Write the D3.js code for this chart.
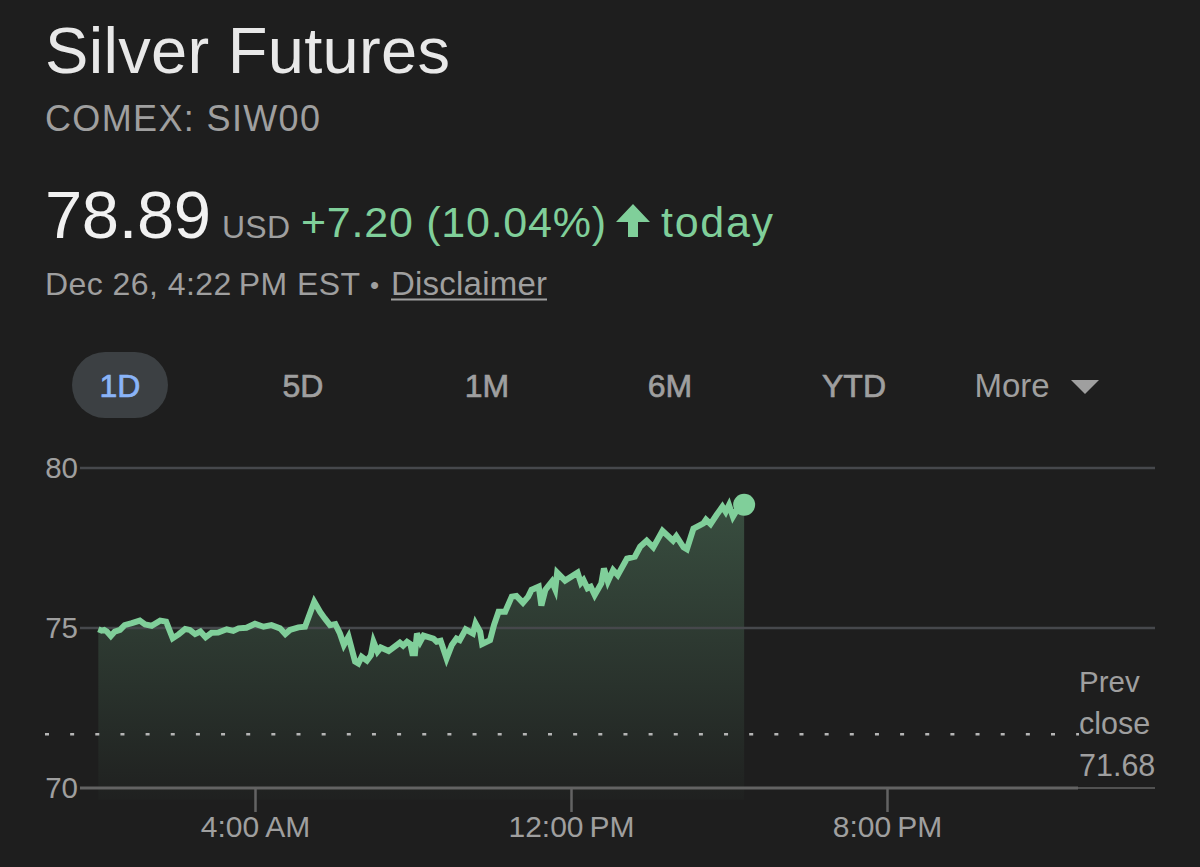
<!DOCTYPE html>
<html><head><meta charset="utf-8">
<script src="https://cdn.jsdelivr.net/npm/d3@7"></script>
<style>
html,body{margin:0;padding:0;background:#1e1e1e;overflow:hidden}
svg{display:block}
text{font-family:"Liberation Sans",Arial,sans-serif}
</style></head><body><div id="chart"></div>
<script>
const minutes=[2,7,11,15,21,27,35,42,53,65,73,83,96,105,115,124,134,141,149,157,165,174,184,197,207,215,227,240,253,265,278,286,293,306,316,330,339,346,354,362,369,375,382,392,397,402,410,416,420,426,431,443,460,465,471,476,479,483,486,491,496,511,516,522,531,539,546,551,560,571,575,582,585,597,603,610,620,630,637,647,655,660,671,675,681,691,696,699,711,730,735,739,745,750,756,766,770,776,784,791,805,817,825,835,845,859,875,880,891,896,906,921,925,932,941,950,955,960,966,972,983];
const prices=[74.96,74.92,74.94,74.89,74.75,74.89,74.94,75.09,75.15,75.23,75.11,75.07,75.23,75.20,74.68,74.80,74.97,74.94,74.81,74.89,74.71,74.85,74.86,74.96,74.91,74.99,75.01,75.13,75.04,75.09,74.99,74.81,74.94,75.02,75.04,75.82,75.50,75.30,75.09,75.12,74.83,74.47,74.73,73.95,73.89,74.10,73.98,74.15,74.57,74.26,74.39,74.28,74.54,74.45,74.57,74.50,74.21,74.21,74.83,74.57,74.76,74.67,74.57,74.60,74.05,74.47,74.67,74.62,74.96,74.83,75.14,74.88,74.50,74.62,75.09,75.51,75.51,75.98,76.00,75.79,75.98,76.19,76.29,75.70,76.19,76.45,76.21,76.73,76.48,76.73,76.41,76.50,76.24,76.29,76.03,76.39,76.86,76.45,76.81,76.65,77.17,77.23,77.54,77.73,77.52,78.04,77.73,77.87,77.52,77.46,78.11,78.27,78.39,78.25,78.53,78.79,78.63,78.84,78.48,78.69,78.85];
const yTicks=[70,75,80];
const xTicks=[240,720,1200];
const xTickLabels=["4:00\u2009AM","12:00\u2009PM","8:00\u2009PM"];
const prevClose=71.68;
const ranges=["1D","5D","1M","6M","YTD"];

const W=1200,H=867;
const GREY="#9f9f9f",GREEN="#80cf9a",LIGHT="#e8e8e8";
const svg=d3.select("#chart").append("svg").attr("width",W).attr("height",H);
const x=d3.scaleLinear().domain([240,1200]).range([255,887]);
const y=d3.scaleLinear().domain([70,80]).range([788,468]);
const data=minutes.map((m,i)=>({m,p:prices[i]}));

const T=(s,px,py,size,fill,anchor="start",len=null,extra={})=>{
  const t=svg.append("text").text(s).attr("x",px).attr("y",py).attr("font-size",size).attr("fill",fill).attr("text-anchor",anchor);
  if(len)t.attr("textLength",len).attr("lengthAdjust","spacing");
  Object.entries(extra).forEach(([k,v])=>t.attr(k,v));return t;};

// Header
T("Silver Futures",45,73,65,LIGHT,"start",405);
T("COMEX: SIW00",45,131,36,GREY,"start",275);
T("78.89",45,238,67,"#f1f1f1","start",166);
T("USD",222,238,32,GREY,"start",68);
T("+7.20 (10.04%)",301,237,43,GREEN,"start",305);
svg.append("path").attr("fill",GREEN).attr("d","M633 204 L650 222 L638 222 L638 237 L628 237 L628 222 L616 222 Z");
T("today",661,237,43,GREEN,"start",112);
T("Dec 26, 4:22\u2009PM EST",45,295,32,GREY,"start",315);
T("\u2022",370,294,26,GREY);
T("Disclaimer",391,295,33,GREY,"start",156);
svg.append("line").attr("x1",391).attr("x2",547).attr("y1",299.5).attr("y2",299.5).attr("stroke",GREY).attr("stroke-width",2);

// Range selector
svg.append("rect").attr("x",72).attr("y",352).attr("width",96).attr("height",66).attr("rx",33).attr("fill","#3c4043");
const rangeX=[120,303,487,670,854];
ranges.forEach((r,i)=>T(r,rangeX[i],397,32,i==0?"#8ab4f8":GREY,"middle",null,{"stroke":i==0?"#8ab4f8":GREY,"stroke-width":0.7}));
T("More",1012,397,33,GREY,"middle");
svg.append("path").attr("fill",GREY).attr("d","M1071 380 L1099 380 L1085 394 Z");

// Area (fades out a little below the axis line)
const defs=svg.append("defs");
const g=defs.append("linearGradient").attr("id","fillg").attr("x1",0).attr("x2",0).attr("y1",0).attr("y2",1);
g.append("stop").attr("offset","0%").attr("stop-color",GREEN).attr("stop-opacity",0.27);
g.append("stop").attr("offset","100%").attr("stop-color",GREEN).attr("stop-opacity",0.015);
const last=data[data.length-1];
const area=d3.area().x(d=>x(d.m)).y0(y(69.63)).y1(d=>y(d.p));
svg.append("path").datum(data).attr("d",area).attr("fill","url(#fillg)");

// Gridlines and y labels
const yAxis=d3.axisLeft(y).tickValues(yTicks).tickSize(0).tickPadding(0);
const ga=svg.append("g").attr("transform","translate(80,0)").call(yAxis);
ga.select(".domain").remove();
ga.selectAll("text").attr("font-size",29.5).attr("fill",GREY).style("font-family",'"Liberation Sans",sans-serif').attr("x",-2).attr("dy","0.33em");
yTicks.filter(v=>v!=70).forEach(v=>{
  svg.append("line").attr("x1",80).attr("x2",1155).attr("y1",y(v)).attr("y2",y(v))
   .attr("stroke","#46484c").attr("stroke-width",2.5);
});
svg.append("line").attr("x1",80).attr("x2",1078).attr("y1",y(70)).attr("y2",y(70)).attr("stroke","#636363").attr("stroke-width",3);
svg.append("line").attr("x1",1078).attr("x2",1155).attr("y1",y(70)).attr("y2",y(70)).attr("stroke","#636363").attr("stroke-width",1.5);

// Line + end dot
svg.append("path").datum(data).attr("d",d3.line().x(d=>x(d.m)).y(d=>y(d.p))).attr("fill","none").attr("stroke",GREEN).attr("stroke-width",6).attr("stroke-linejoin","miter");
svg.append("circle").attr("cx",x(last.m)).attr("cy",y(last.p)).attr("r",11).attr("fill",GREEN);

// Prev close
svg.append("line").attr("x1",45).attr("x2",1079).attr("y1",y(prevClose)).attr("y2",y(prevClose)).attr("stroke","#b5b5b5").attr("stroke-width",2.5).attr("stroke-dasharray","4 21.15");
T("Prev",1079,692,29.5,GREY);
T("close",1079,734,30.5,GREY);
T(String(prevClose),1079,776,30.5,GREY);

// X axis
const xAxis=d3.axisBottom(x).tickValues(xTicks).tickFormat((d,i)=>xTickLabels[i]).tickSize(24).tickPadding(0);
const gx=svg.append("g").attr("transform","translate(0,788)").call(xAxis);
gx.select(".domain").remove();
gx.selectAll("line").attr("stroke","#636363").attr("stroke-width",2.5);
gx.selectAll("text").attr("font-size",30).attr("fill",GREY).style("font-family",'"Liberation Sans",sans-serif').attr("y",49).attr("dy",0);
</script></body></html>
